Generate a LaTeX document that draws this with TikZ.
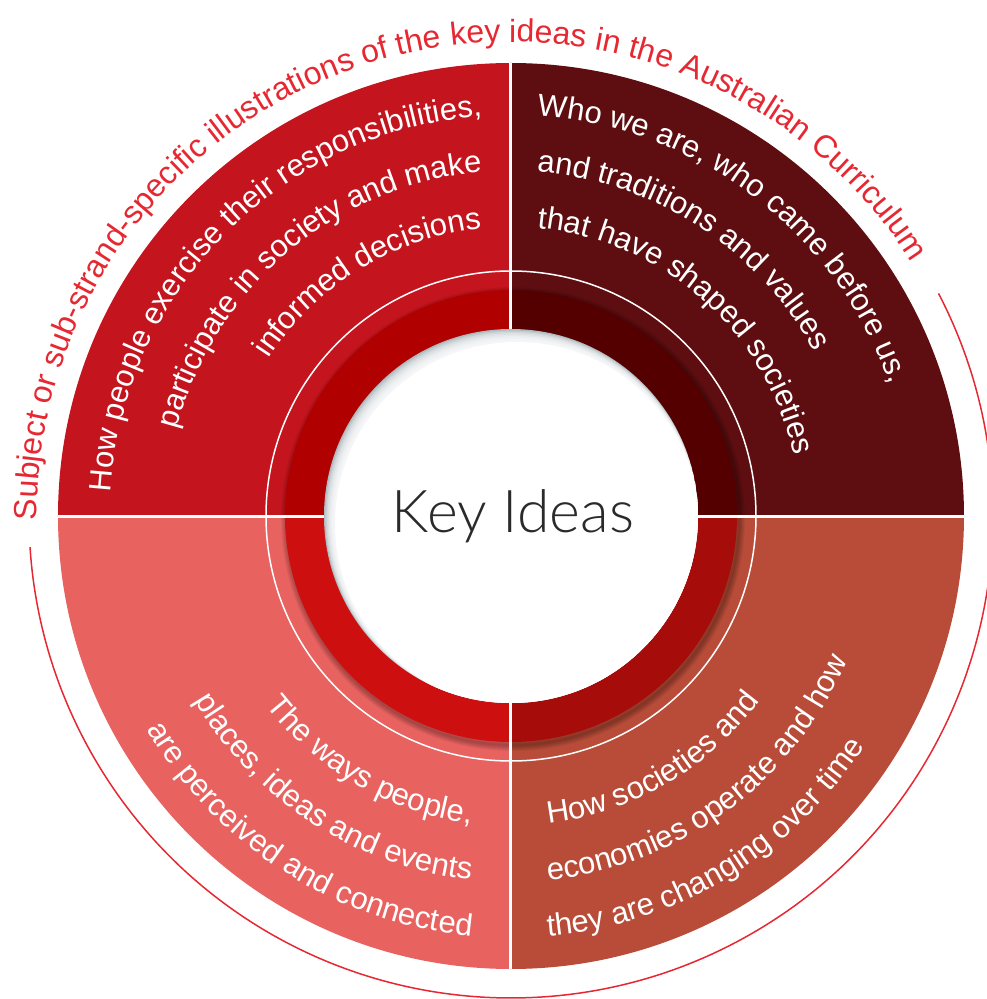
\documentclass[tikz,border=0pt]{standalone}
\usepackage{fontspec}
\setmainfont{Liberation Sans}
\newfontfamily\keyfont{Lato Light}
\usetikzlibrary{decorations.text}
\definecolor{tlq}{HTML}{C4141E}
\definecolor{trq}{HTML}{5E0E10}
\definecolor{blq}{HTML}{E86260}
\definecolor{brq}{HTML}{B84C38}
\definecolor{tlr}{HTML}{B00000}
\definecolor{trr}{HTML}{550000}
\definecolor{blr}{HTML}{CD0F0F}
\definecolor{brr}{HTML}{A50C0A}
\definecolor{outred}{HTML}{E62832}
\definecolor{keygray}{HTML}{2A2A2A}
\definecolor{shadowgray}{RGB}{175,186,190}
\newcommand\qfont{\fontsize{31}{37}\selectfont}
\newcommand\capfont{\fontsize{32}{38}\selectfont}
\tikzset{
	arc text/.style={decorate, decoration={text along path, text color=white, text align=#1}},
	key title/.style={font=\keyfont\fontsize{59}{66}\selectfont, text=keygray, inner sep=0pt}
}
% one line of text bent round the centre
\newcommand\arcline[5]{%
	\path[arc text=#1, decoration={text={|\qfont|#5}}] (#3:#2) arc[start angle=#3, end angle=#4, radius=#2];
}
\begin{document}
\begin{tikzpicture}[x=1pt, y=1pt]
	\useasboundingbox (-511,-483) rectangle (475,516);
	
	% quadrants
	\foreach \a/\q in {90/tlq, 0/trq, 180/blq, 270/brq} {
		\fill[\q] (0,0) -- (\a:453) arc[start angle=\a, delta angle=90, radius=453] -- cycle;
	}
	
	% shadow of the inner ring
	\foreach \k in {1,...,6} {
		\draw[black, opacity=0.05, line width=\k*2pt] (2,-3) circle[radius=226];
	}
	\draw[white, line width=1.5pt] (0,0) circle[radius=245];
	
	% inner ring
	\foreach \a/\q in {90/tlr, 0/trr, 180/blr, 270/brr} {
		\fill[\q] (0,0) -- (\a:226) arc[start angle=\a, delta angle=90, radius=226] -- cycle;
	}
	\draw[white, line width=3pt] (-453,0) -- (453,0) (0,-453) -- (0,453);
	
	% centre with its soft inner shadow
	\fill[shadowgray] (0,0) circle[radius=187];
	\begin{scope}
		\clip (0,0) circle[radius=187];
		\foreach \k in {1,...,8} {
			\fill[white, opacity=0.25] (\k*0.7,-\k*0.9) circle[radius=187-\k*0.5];
		}
		\fill[white] (6,-8) circle[radius=182];
	\end{scope}
	\node[key title, anchor=base] (key) at (2,-16) {Key Ideas};
	
	% top left
	\arcline{right}{401}{200}{94.1}{How people exercise their responsibilities,}
	\arcline{right}{345}{200}{94.8}{participate in society and make}
	\arcline{right}{289}{200}{95.8}{informed decisions}
	% top right
	\arcline{left}{401}{86.3}{-20}{Who we are, who came before us,}
	\arcline{left}{345}{85.7}{-20}{and traditions and values}
	\arcline{left}{289}{84.8}{-20}{that have shaped societies}
	% bottom left
	\arcline{right}{310}{150}{262.6}{The ways people,}
	\arcline{right}{366}{150}{263.7}{places, ideas and events}
	\arcline{right}{422}{150}{264.6}{are perceived and connected}
	% bottom right
	\arcline{left}{310}{276.9}{400}{How societies and}
	\arcline{left}{366}{275.8}{400}{economies operate and how}
	\arcline{left}{422}{275.0}{400}{they are changing over time}
	
	% outer caption and its arc
	\path[arc text=left, decoration={text color=outred, text={|\capfont|Subject or sub-strand-specific illustrations of the key ideas in the Australian Curriculum}}]
		(180.5:474) arc[start angle=180.5, end angle=10, radius=474];
	\draw[outred, line width=1.5pt] (27.5:482) arc[start angle=27.5, end angle=-176.3, radius=482];
\end{tikzpicture}
\end{document}
